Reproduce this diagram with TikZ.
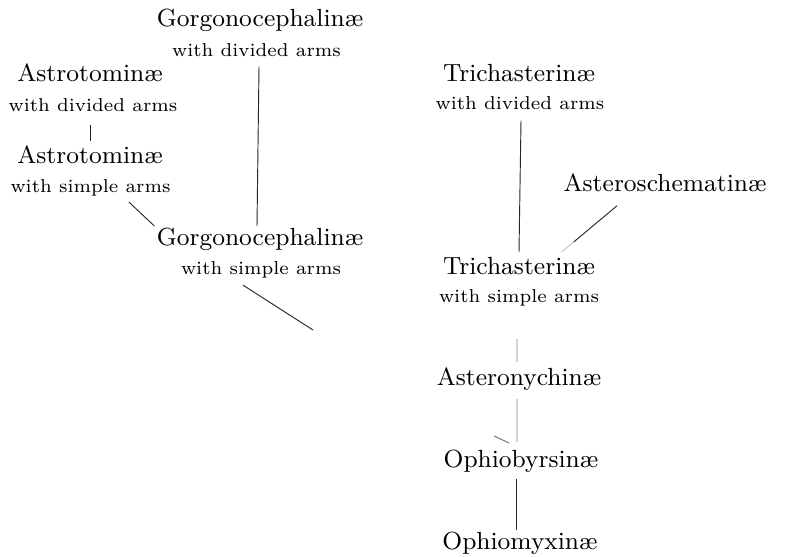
\documentclass[tikz,border=0pt]{standalone}
\usetikzlibrary{calc}
\begin{document}
\begin{tikzpicture}[x=0.375pt,y=-0.375pt,
  taxon/.style={anchor=base,inner sep=0pt,font=\fontsize{9.3}{11}\selectfont},
  subline/.style={anchor=base,inner sep=0pt,font=\fontsize{7}{8}\selectfont},
  link/.style={draw=black!85,line width=0.35pt},
  faint/.style={draw=black!18,line width=0.5pt},
  mid/.style={draw=black!55,line width=0.35pt}]
\useasboundingbox (0,0) rectangle (794,557);
% left tree
\node[taxon] (g1) at (260,27) {Gorgonocephalinæ};
\node[subline] (g1s) at (256.5,57) {with divided arms};
\node[taxon] (a1) at (90,82) {Astrotominæ};
\node[subline] (a1s) at (93,112) {with divided arms};
\node[taxon] (a2) at (90,164) {Astrotominæ};
\node[subline] (a2s) at (90.5,193) {with simple arms};
\node[taxon] (g2) at (260,246) {Gorgonocephalinæ};
\node[subline] (g2s) at (261,275) {with simple arms};
% right tree
\node[taxon] (t1) at (519,82) {Trichasterinæ};
\node[subline] (t1s) at (520,110) {with divided arms};
\node[taxon] (as) at (665,192) {Asteroschematinæ};
\node[taxon] (t2) at (519,275) {Trichasterinæ};
\node[subline] (t2s) at (519,303) {with simple arms};
\node[taxon] (an) at (519,386) {Asteronychinæ};
\node[taxon] (op) at (521,468) {Ophiobyrsinæ};
\node[taxon] (om) at (520,550) {Ophiomyxinæ};
\coordinate (gend) at (313,330);
\coordinate (stub) at (494,436);
% connectors
\draw[link] ($(a1s.south)+(-2.5,12)$) -- ($(a2.north)+(0.5,-5)$);
\draw[link] ($(a2s.south)+(38.5,5)$) -- ($(g2.north west)+(-2,-2)$);
\draw[link] ($(g1s.south)+(2.5,9)$) -- ($(g2.north)+(-3,-2)$);
\draw[link] ($(g2s.south)+(-18,6)$) -- (gend);
\draw[link] ($(t1s.south)+(1,10)$) -- ($(t2.north)+(0,-5)$);
\coordinate (asa) at ($(as.south)+(-48,13)$);
\coordinate (asb) at ($(t2.north east)+(-34,-5)$);
\draw[link] (asa) -- ($(asa)!0.78!(asb)$);
\draw[faint] ($(asa)!0.78!(asb)$) -- (asb);
\draw[faint] ($(t2s.south)+(-2,32)$) -- ($(an.north)+(-2,-6)$);
\draw[faint] ($(an.south)+(-2,7)$) -- ($(op.north)+(-4,-8)$);
\draw[mid] (stub) -- ($(op.north)+(-12,-7)$);
\draw[link] ($(op.south)+(-4.5,5)$) -- ($(om.north)+(-3.5,-2)$);
\end{tikzpicture}
\end{document}
